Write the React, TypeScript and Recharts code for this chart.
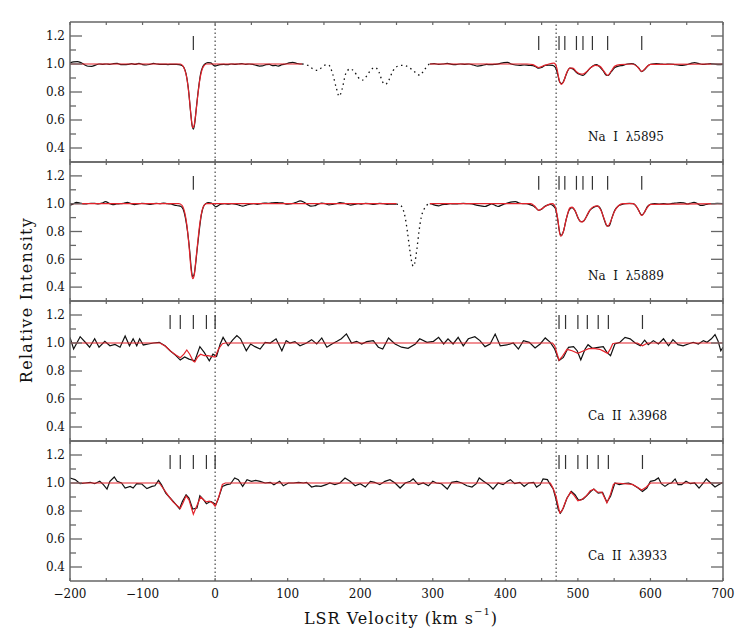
import React from 'react';
import { ComposedChart, Line, XAxis, YAxis, ReferenceLine } from 'recharts';

type P = [number, number];

// ---------- tick values ----------
const xTicks = [-200, -150, -100, -50, 0, 50, 100, 150, 200, 250, 300, 350, 400, 450, 500, 550, 600, 650, 700];
const xMajorLabels: Record<string, string> = { '-200': '\u2212200', '-100': '\u2212100', '0': '0', '100': '100', '200': '200', '300': '300', '400': '400', '500': '500', '600': '600', '700': '700' };
const yTicks = [0.4, 0.5, 0.6, 0.7, 0.8, 0.9, 1.0, 1.1, 1.2];
const yMajor = [0.4, 0.6, 0.8, 1.0, 1.2];
const systemicLines = [0, 470];

// ---------- component markers ----------
const naComponents = [-30, 446, 474, 482, 498, 507, 520, 541, 588];
const caComponents = [-62, -48, -30, -12, 0, 474, 483, 500, 513, 528, 542, 589];

// ---------- Na I 5895 ----------
const na5895ObsA: P[] = [[-200,1.008],[-195,1.015],[-190,1.017],[-185,1.01],[-180,0.995],[-175,0.984],[-170,0.983],[-165,0.992],[-160,1.0],[-155,0.998],[-150,1.0],[-145,0.997],[-140,1.003],[-135,1.004],[-130,0.996],[-125,0.995],[-120,0.997],[-115,1.002],[-110,0.997],[-105,1.004],[-100,0.996],[-95,0.993],[-90,0.997],[-85,1.004],[-80,1.0],[-75,0.997],[-70,0.998],[-65,0.996],[-60,0.998],[-55,0.997],[-50,0.996],[-46,0.99],[-43,0.975],[-40,0.93],[-37,0.83],[-34,0.67],[-32,0.57],[-30,0.535],[-28,0.58],[-26,0.68],[-23,0.82],[-20,0.93],[-17,0.98],[-14,1.0],[-10,1.01],[-6,1.008],[-3,0.995],[0,0.985],[3,0.99],[7,0.995],[12,0.997],[17,0.995],[22,1.0],[27,0.998],[32,1.0],[37,1.002],[42,0.998],[47,1.0],[52,0.997],[57,0.99],[61,0.985],[65,0.986],[70,0.995],[75,0.998],[79,0.988],[83,0.99],[87,0.985],[92,0.995],[97,1.0],[102,1.008],[107,1.012],[112,1.005],[117,1.0],[120,1.0]];
const na5895Blend: P[] = [[120,1.0],[128,0.99],[135,0.965],[141,0.955],[147,0.975],[153,0.995],[157,0.99],[162,0.93],[167,0.83],[171,0.77],[175,0.82],[180,0.93],[186,0.965],[192,0.945],[197,0.905],[203,0.885],[209,0.915],[215,0.96],[221,0.975],[226,0.94],[231,0.87],[235,0.855],[239,0.88],[245,0.95],[252,0.985],[258,0.99],[264,0.985],[270,0.965],[276,0.94],[282,0.92],[288,0.955],[294,0.995],[296,1.0]];
const na5895ObsB: P[] = [[296,1.0],[302,1.002],[308,0.998],[314,1.0],[320,1.004],[326,0.998],[332,0.996],[338,1.0],[344,0.998],[350,1.0],[356,0.993],[362,0.985],[368,0.99],[374,0.997],[380,0.995],[386,0.998],[392,1.003],[398,1.01],[403,1.012],[408,1.0],[414,0.993],[420,0.99],[426,0.993],[432,0.99],[438,0.988],[442,0.98],[446,0.97],[450,0.975],[455,0.99],[460,0.992],[465,0.99],[469,0.975],[472,0.93],[475,0.87],[478,0.86],[481,0.885],[485,0.94],[489,0.97],[493,0.965],[498,0.94],[503,0.925],[507,0.918],[511,0.935],[516,0.965],[521,0.988],[526,0.995],[530,0.98],[535,0.95],[539,0.92],[542,0.918],[546,0.945],[551,0.975],[556,0.985],[562,0.99],[568,1.0],[574,1.003],[579,0.995],[584,0.97],[588,0.945],[592,0.96],[597,0.99],[602,1.0],[608,1.003],[614,1.0],[620,0.997],[626,1.0],[632,0.998],[638,0.993],[644,0.99],[650,0.995],[656,1.005],[661,1.01],[666,1.004],[672,0.998],[678,1.0],[684,1.003],[690,0.997],[695,0.995],[700,0.998]];
const na5895FitA: P[] = [[-200,1.0],[-48,1.0],[-45,0.99],[-42,0.96],[-39,0.9],[-36,0.78],[-33,0.62],[-31,0.545],[-29,0.56],[-27,0.63],[-24,0.77],[-21,0.89],[-18,0.96],[-15,0.99],[-12,1.0],[120,1.0]];
const na5895FitB: P[] = [[296,1.0],[430,1.0],[438,0.995],[446,0.975],[454,0.99],[460,1.0],[467,1.006],[471,0.97],[474,0.89],[477,0.855],[480,0.87],[484,0.93],[489,0.97],[493,0.97],[498,0.945],[503,0.93],[507,0.928],[512,0.945],[518,0.975],[524,0.99],[530,0.985],[535,0.955],[541,0.918],[546,0.95],[551,0.985],[558,0.995],[575,1.0],[582,0.98],[588,0.948],[594,0.975],[600,0.998],[700,1.0]];

// ---------- Na I 5889 ----------
const na5889ObsA: P[] = [[-200,0.99],[-196,0.997],[-191,1.01],[-186,1.005],[-181,0.998],[-176,1.0],[-171,1.003],[-166,1.002],[-161,0.999],[-156,1.004],[-151,1.015],[-146,1.002],[-141,0.993],[-136,0.998],[-131,1.0],[-126,1.002],[-121,1.01],[-116,1.0],[-111,0.993],[-106,0.998],[-101,1.002],[-96,1.0],[-91,0.995],[-86,0.998],[-81,1.003],[-76,1.0],[-71,1.005],[-66,1.0],[-61,0.998],[-56,0.99],[-51,0.985],[-47,0.98],[-44,0.96],[-41,0.9],[-38,0.8],[-35,0.66],[-33,0.54],[-31,0.475],[-29,0.49],[-27,0.56],[-25,0.66],[-22,0.8],[-19,0.92],[-16,0.98],[-13,1.0],[-9,1.008],[-5,1.005],[-2,0.99],[1,0.978],[4,0.985],[8,0.997],[13,1.0],[18,0.996],[23,1.0],[28,0.997],[33,0.99],[38,0.983],[43,0.99],[48,0.997],[53,1.0],[58,0.995],[63,1.0],[68,1.005],[73,1.003],[78,1.006],[83,1.008],[88,1.007],[93,1.006],[98,0.996],[103,0.998],[108,1.003],[113,1.012],[117,1.02],[122,1.012],[127,0.995],[132,0.982],[137,0.985],[142,0.997],[147,1.004],[152,1.0],[157,0.992],[162,0.995],[167,1.0],[172,1.008],[177,1.004],[182,0.997],[187,0.99],[192,0.995],[197,1.0],[202,0.997],[207,1.002],[212,1.0],[217,0.995],[222,0.998],[227,1.003],[232,1.0],[237,0.995],[242,0.997],[247,0.996],[250,0.997]];
const na5889Blend: P[] = [[250,0.997],[255,0.99],[259,0.96],[262,0.9],[265,0.8],[268,0.68],[271,0.58],[273,0.55],[275,0.57],[278,0.67],[281,0.8],[284,0.9],[288,0.96],[292,0.99],[296,1.0]];
const na5889ObsB: P[] = [[296,1.0],[300,0.995],[304,0.988],[308,0.985],[313,0.993],[318,0.995],[324,1.0],[330,0.998],[336,1.0],[342,1.002],[348,1.0],[354,0.998],[360,0.99],[366,0.985],[372,0.98],[377,0.99],[381,0.998],[386,0.988],[390,0.98],[395,0.99],[400,1.0],[405,1.008],[410,1.013],[414,1.015],[419,1.005],[424,1.0],[429,1.0],[434,0.993],[438,0.985],[442,0.97],[446,0.953],[450,0.96],[454,0.98],[458,0.99],[462,0.995],[466,0.985],[469,0.965],[472,0.89],[475,0.79],[477,0.77],[480,0.8],[484,0.89],[488,0.955],[492,0.972],[496,0.95],[500,0.9],[504,0.87],[508,0.875],[512,0.91],[517,0.955],[522,0.975],[527,0.982],[532,0.955],[536,0.89],[540,0.84],[543,0.84],[547,0.9],[551,0.955],[556,0.985],[561,0.995],[566,1.0],[571,1.002],[576,1.0],[580,0.985],[584,0.95],[588,0.918],[592,0.94],[596,0.98],[600,0.995],[606,1.0],[612,0.998],[618,1.0],[624,0.997],[630,1.002],[636,1.005],[641,1.008],[646,1.006],[651,0.998],[656,1.005],[660,1.01],[665,1.0],[669,0.988],[674,0.99],[680,0.998],[686,1.0],[692,1.002],[700,1.0]];
const na5889FitA: P[] = [[-200,1.0],[-50,1.0],[-46,0.99],[-42,0.94],[-39,0.85],[-36,0.7],[-33,0.52],[-31,0.46],[-29,0.48],[-27,0.57],[-24,0.72],[-21,0.86],[-18,0.95],[-15,0.99],[-12,1.0],[250,1.0]];
const na5889FitB: P[] = [[296,1.0],[435,1.0],[440,0.985],[446,0.952],[452,0.97],[458,0.99],[465,1.0],[469,0.975],[472,0.9],[476,0.766],[480,0.8],[484,0.89],[489,0.97],[492,0.975],[497,0.94],[502,0.88],[506,0.868],[510,0.89],[516,0.95],[522,0.98],[527,0.985],[532,0.95],[537,0.88],[541,0.836],[545,0.87],[550,0.94],[556,0.985],[562,1.0],[576,1.0],[582,0.97],[588,0.915],[594,0.96],[600,0.995],[700,1.0]];

// ---------- Ca II 3968 ----------
const ca3968Obs: P[] = [[-200,1.04],[-195,0.957],[-186,1.045],[-178,1.0],[-173,0.97],[-166,1.03],[-160,0.97],[-152,1.012],[-145,0.98],[-138,0.99],[-131,0.97],[-124,1.05],[-118,0.98],[-113,1.03],[-108,0.98],[-104,1.03],[-99,0.986],[-92,0.993],[-85,1.0],[-77,1.005],[-69,0.98],[-62,0.945],[-54,0.91],[-48,0.878],[-42,0.9],[-36,0.885],[-28,0.873],[-21,0.974],[-15,0.933],[-8,0.873],[-3,0.92],[2,0.905],[7,0.993],[11,1.04],[18,0.98],[24,1.02],[30,1.053],[35,1.03],[43,0.945],[49,0.993],[55,0.974],[62,0.957],[69,1.005],[76,1.0],[84,1.03],[92,0.945],[98,1.017],[103,1.0],[110,1.01],[117,0.98],[126,1.0],[133,1.024],[140,0.993],[147,1.036],[154,0.97],[161,0.993],[168,1.012],[174,1.03],[181,1.065],[188,1.0],[195,1.012],[202,0.993],[209,1.01],[218,1.017],[225,0.97],[231,0.957],[239,1.036],[248,0.993],[257,0.97],[266,0.962],[276,0.993],[282,1.03],[292,1.005],[301,1.012],[308,1.04],[315,0.993],[321,1.03],[328,0.993],[335,1.04],[342,0.98],[349,1.03],[358,1.045],[365,1.017],[372,0.974],[379,0.993],[386,1.064],[393,0.98],[402,0.986],[411,1.0],[418,0.957],[425,1.017],[433,1.005],[441,0.964],[448,0.993],[455,1.036],[462,1.005],[468,0.957],[474,0.874],[480,0.897],[487,0.969],[494,0.974],[499,0.945],[504,0.88],[510,0.957],[514,0.988],[520,0.962],[528,0.969],[535,0.974],[540,0.933],[545,0.91],[551,0.993],[558,1.005],[565,1.04],[572,1.03],[579,1.0],[586,0.98],[592,1.02],[597,0.988],[604,1.017],[611,0.993],[618,1.03],[625,0.98],[631,1.024],[638,0.988],[645,0.98],[652,0.993],[659,1.005],[666,0.993],[673,1.017],[678,1.005],[684,1.03],[689,1.06],[693,1.017],[697,0.945],[700,0.97]];
const ca3968Fit: P[] = [[-200,1.0],[-76,1.0],[-68,0.975],[-61,0.94],[-54,0.915],[-48,0.895],[-43,0.92],[-39,0.95],[-35,0.92],[-30,0.87],[-28,0.865],[-24,0.9],[-20,0.92],[-15,0.91],[-10,0.91],[-5,0.905],[0,0.9],[5,0.96],[10,0.995],[14,1.0],[465,1.0],[468,0.98],[474,0.877],[478,0.9],[485,0.955],[492,0.945],[500,0.926],[508,0.945],[515,0.96],[522,0.962],[530,0.955],[536,0.94],[541,0.926],[545,0.96],[548,0.995],[552,1.0],[582,1.0],[589,0.98],[596,1.0],[700,1.0]];

// ---------- Ca II 3933 ----------
const ca3933Obs: P[] = [[-200,1.036],[-193,1.024],[-186,0.995],[-179,1.0],[-172,1.005],[-166,0.995],[-159,1.012],[-154,0.988],[-149,0.957],[-145,1.012],[-139,1.043],[-135,1.012],[-129,1.0],[-124,0.964],[-117,0.976],[-113,0.964],[-108,0.995],[-101,0.993],[-94,0.96],[-87,0.976],[-83,0.98],[-78,1.019],[-74,0.988],[-68,0.928],[-62,0.893],[-55,0.852],[-49,0.816],[-45,0.869],[-40,0.916],[-36,0.893],[-31,0.814],[-25,0.821],[-21,0.909],[-16,0.881],[-12,0.852],[-6,0.869],[-2,0.857],[1,0.845],[4,0.881],[10,0.976],[16,0.988],[21,0.993],[27,1.036],[32,1.024],[38,0.976],[44,1.024],[50,1.012],[56,1.019],[62,1.012],[69,1.0],[76,1.005],[81,0.988],[89,1.012],[94,0.98],[101,1.0],[108,1.0],[115,1.005],[122,1.0],[126,1.005],[133,0.971],[139,0.98],[146,0.976],[153,0.988],[158,1.0],[165,0.988],[172,1.0],[179,1.036],[186,1.012],[193,0.98],[200,0.995],[207,0.971],[214,1.012],[220,1.005],[227,0.988],[234,1.012],[241,1.024],[248,1.0],[255,0.964],[262,1.0],[269,1.012],[273,1.029],[280,0.988],[287,1.0],[294,0.98],[300,1.012],[305,1.0],[312,0.995],[320,0.957],[326,1.005],[333,1.012],[340,1.0],[347,0.98],[354,0.971],[360,0.995],[364,1.036],[370,1.012],[377,0.988],[383,0.957],[390,1.0],[397,0.988],[403,1.012],[407,1.024],[413,0.995],[420,1.005],[426,0.976],[432,1.0],[439,1.005],[443,0.971],[448,0.988],[452,1.029],[458,1.024],[462,0.988],[466,0.957],[470,0.881],[473,0.809],[476,0.785],[480,0.821],[485,0.893],[491,0.94],[496,0.916],[501,0.876],[507,0.885],[512,0.909],[518,0.94],[522,0.957],[528,0.928],[534,0.933],[540,0.862],[545,0.905],[551,1.0],[557,0.988],[563,0.995],[570,1.0],[576,0.988],[583,0.964],[589,0.94],[595,0.964],[600,1.012],[606,1.019],[611,1.036],[615,0.995],[620,0.976],[625,0.995],[629,1.0],[634,1.029],[638,0.988],[643,0.988],[649,1.012],[655,0.995],[661,1.0],[667,0.964],[673,1.0],[677,1.029],[683,1.0],[689,0.971],[694,0.988],[700,1.005]];
const ca3933Fit: P[] = [[-200,1.0],[-77,1.0],[-70,0.95],[-65,0.913],[-58,0.865],[-48,0.818],[-44,0.86],[-40,0.908],[-36,0.88],[-30,0.777],[-25,0.84],[-20,0.9],[-16,0.88],[-12,0.865],[-8,0.87],[-3,0.855],[0,0.834],[5,0.9],[10,0.99],[14,1.0],[462,1.0],[466,0.96],[470,0.9],[475,0.787],[478,0.8],[484,0.88],[490,0.937],[495,0.91],[500,0.872],[505,0.88],[512,0.91],[517,0.945],[522,0.955],[527,0.934],[533,0.935],[540,0.858],[545,0.92],[549,0.99],[552,1.0],[575,0.99],[582,0.97],[588,0.95],[594,0.97],[600,1.0],[700,1.0]];

const panelLabels = ['Na\u00A0\u00A0I\u00A0\u00A0\u03BB5895', 'Na\u00A0\u00A0I\u00A0\u00A0\u03BB5889', 'Ca\u00A0\u00A0II\u00A0\u00A0\u03BB3968', 'Ca\u00A0\u00A0II\u00A0\u00A0\u03BB3933'];

const rows = (a: P[]) => a.map(([v, f]) => ({ v, f }));

const AX = '#666';
const RED = '#e3232b';
const FONT = '"DejaVu Serif", serif';
const PAD = 4;

const isMajorY = (v: number) => yMajor.some((m) => Math.abs(m - v) < 1e-6);

const LeftTick = (p: any) => {
  const { x, y, payload } = p;
  const major = isMajorY(payload.value);
  return (
    <g>
      <line x1={x} y1={y} x2={x + (major ? 12 : 6)} y2={y} stroke={AX} strokeWidth={1.3} />
      {major && (
        <text x={x - 5} y={y} dy={4.3} textAnchor="end" fontFamily={FONT} fontSize={12} fill="#111">
          {payload.value.toFixed(1)}
        </text>
      )}
    </g>
  );
};
const RightTick = (p: any) => {
  const { x, y, payload } = p;
  const major = isMajorY(payload.value);
  return <line x1={x} y1={y} x2={x - (major ? 12 : 6)} y2={y} stroke={AX} strokeWidth={1.3} />;
};
const TopTick = (p: any) => {
  const { x, y } = p;
  return <line x1={x} y1={y} x2={x} y2={y + 3} stroke={AX} strokeWidth={1.2} />;
};
const makeBottomTick = (showLabels: boolean) => (p: any) => {
  const { x, y, payload } = p;
  const lbl = xMajorLabels[String(payload.value)];
  return (
    <g>
      <line x1={x} y1={y} x2={x} y2={y - 3} stroke={AX} strokeWidth={1.2} />
      {showLabels && lbl !== undefined && (
        <text x={x} y={y} dy={17} textAnchor="middle" fontFamily={FONT} fontSize={12} fill="#111">
          {lbl}
        </text>
      )}
    </g>
  );
};

type PanelDef = {
  obs: P[][];
  fit: P[][];
  blend: P[] | null;
  comps: number[];
  top: number;
  height: number;
  bottom: boolean;
  smooth: boolean;
};

const panels: PanelDef[] = [
  { obs: [na5895ObsA, na5895ObsB], fit: [na5895FitA, na5895FitB], blend: na5895Blend, comps: naComponents, top: 22, height: 140, bottom: false, smooth: true },
  { obs: [na5889ObsA, na5889ObsB], fit: [na5889FitA, na5889FitB], blend: na5889Blend, comps: naComponents, top: 162, height: 139, bottom: false, smooth: true },
  { obs: [ca3968Obs], fit: [ca3968Fit], blend: null, comps: caComponents, top: 301, height: 140, bottom: false, smooth: false },
  { obs: [ca3933Obs], fit: [ca3933Fit], blend: null, comps: caComponents, top: 441, height: 140, bottom: true, smooth: false },
];

const Panel = ({ d, idx }: { d: PanelDef; idx: number }) => {
  const xAxisH = d.bottom ? 30 : 1;
  const bottomMargin = d.bottom ? PAD : PAD - 1;
  return (
    <div style={{ position: 'absolute', left: 0, top: d.top - PAD }}>
      <ComposedChart
        width={747}
        height={d.height + 2 * PAD + (d.bottom ? 30 : 0)}
        margin={{ top: PAD - 1, right: 0, bottom: bottomMargin, left: 0 }}
      >
        <XAxis
          xAxisId="b"
          type="number"
          dataKey="v"
          domain={[-200, 700]}
          ticks={xTicks}
          interval={0}
          allowDataOverflow
          height={xAxisH}
          tickSize={0}
          tickMargin={0}
          tick={makeBottomTick(d.bottom)}
          axisLine={{ stroke: AX, strokeWidth: 1.5 }}
          tickLine={false}
        />
        <XAxis
          xAxisId="t"
          orientation="top"
          type="number"
          dataKey="v"
          domain={[-200, 700]}
          ticks={xTicks}
          interval={0}
          allowDataOverflow
          height={1}
          tickSize={0}
          tickMargin={0}
          tick={TopTick}
          axisLine={{ stroke: AX, strokeWidth: 1.5 }}
          tickLine={false}
        />
        <YAxis
          yAxisId="l"
          type="number"
          domain={[0.3, 1.3]}
          ticks={yTicks}
          interval={0}
          allowDataOverflow
          width={70}
          tickSize={0}
          tickMargin={0}
          tick={LeftTick}
          axisLine={{ stroke: AX, strokeWidth: 1.5 }}
          tickLine={false}
        />
        <YAxis
          yAxisId="r"
          orientation="right"
          type="number"
          domain={[0.3, 1.3]}
          ticks={yTicks}
          interval={0}
          allowDataOverflow
          width={24}
          tickSize={0}
          tickMargin={0}
          tick={RightTick}
          axisLine={{ stroke: AX, strokeWidth: 1.5 }}
          tickLine={false}
        />
        {systemicLines.map((v) => (
          <ReferenceLine key={'s' + v} xAxisId="b" yAxisId="l" x={v} stroke="#222" strokeWidth={1} strokeDasharray="1.5 2.5" />
        ))}
        {d.comps.map((v) => (
          <ReferenceLine
            key={'c' + v}
            xAxisId="b"
            yAxisId="l"
            segment={[{ x: v, y: 1.1 }, { x: v, y: 1.2 }]}
            stroke="#333"
            strokeWidth={1.2}
          />
        ))}
        {d.blend && (
          <Line
            xAxisId="b"
            yAxisId="l"
            data={rows(d.blend)}
            dataKey="f"
            type="monotone"
            stroke="#111"
            strokeWidth={1.3}
            strokeDasharray="1.5 3.5"
            dot={false}
            isAnimationActive={false}
          />
        )}
        {d.obs.map((seg, i) => (
          <Line
            key={'o' + i}
            xAxisId="b"
            yAxisId="l"
            data={rows(seg)}
            dataKey="f"
            type={d.smooth ? 'monotone' : 'linear'}
            stroke="#111"
            strokeWidth={1.2}
            dot={false}
            isAnimationActive={false}
          />
        ))}
        {d.fit.map((seg, i) => (
          <Line
            key={'f' + i}
            xAxisId="b"
            yAxisId="l"
            data={rows(seg)}
            dataKey="f"
            type={d.smooth ? 'monotone' : 'linear'}
            stroke={RED}
            strokeWidth={1.2}
            dot={false}
            isAnimationActive={false}
          />
        ))}
      </ComposedChart>
      <div
        style={{
          position: 'absolute',
          left: 588,
          top: d.height - 32 + PAD,
          fontFamily: FONT,
          fontSize: 12,
          color: '#111',
          whiteSpace: 'pre',
          lineHeight: '14px',
        }}
      >
        {panelLabels[idx]}
      </div>
    </div>
  );
};

export default function App() {
  return (
    <div style={{ position: 'absolute', left: 0, top: 0, width: 747, height: 641, background: '#fff', overflow: 'hidden' }}>
      {panels.map((d, i) => (
        <Panel key={i} d={d} idx={i} />
      ))}
      <div
        style={{
          position: 'absolute',
          left: 26,
          top: 300,
          transform: 'translate(-50%, -50%) rotate(-90deg)',
          fontFamily: FONT,
          fontSize: 16,
          color: '#111',
          whiteSpace: 'nowrap',
          letterSpacing: 1.3,
        }}
      >
        Relative Intensity
      </div>
      <div
        style={{
          position: 'absolute',
          left: 401,
          top: 618,
          transform: 'translate(-50%, -50%)',
          fontFamily: FONT,
          fontSize: 16,
          color: '#111',
          whiteSpace: 'nowrap',
          letterSpacing: 1.0,
        }}
      >
        LSR Velocity (km s<sup style={{ fontSize: 10, verticalAlign: 'top', position: 'relative', top: -3 }}>{'\u22121'}</sup>)
      </div>
    </div>
  );
}
